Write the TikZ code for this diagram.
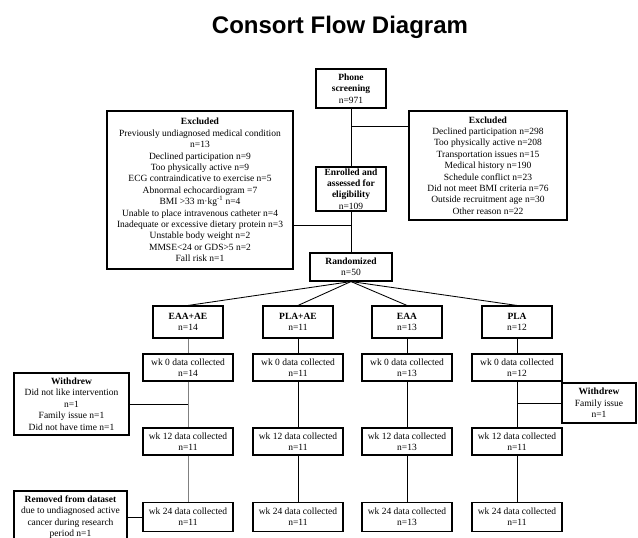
\documentclass[tikz,border=0pt]{standalone}
\usepackage{fontspec}
\setmainfont{Liberation Serif}
\newfontfamily\headfont{Liberation Sans}
\usetikzlibrary{arrows, positioning, calc}

\begin{document}
\begin{tikzpicture}[x=1pt, y=-1pt,
	box/.style={draw, line width=1.1pt, align=center, inner sep=2pt, font=\fontsize{9.5}{11.4}\selectfont},
	grp/.style={box, minimum width=70pt, minimum height=32pt},
	wk/.style={box, minimum width=90pt, minimum height=27pt},
	link/.style={line width=0.85pt}]
	\useasboundingbox (0,0) rectangle (638,538);
	\node[anchor=base, font=\headfont\bfseries\fontsize{24}{28}\selectfont] (title) at (340,33) {Consort Flow Diagram};

	% screening and enrolment
	\node[box, minimum width=70pt, minimum height=39pt] (phone) at (351,88.5) {\textbf{Phone}\\\textbf{screening}\\n=971};
	\node[box, minimum width=70pt, minimum height=44pt, inner ysep=0.5pt] (enrol) at (351,189) {\textbf{Enrolled and}\\\textbf{assessed for}\\\textbf{eligibility}\\n=109};
	\node[box, minimum width=82pt, minimum height=28pt] (rand) at (351,267) {\textbf{Randomized}\\n=50};
	\node[box, minimum width=158pt, minimum height=109pt] (exclR) at (488,165.5) {\textbf{Excluded}\\Declined participation n=298\\Too physically active n=208\\Transportation issues n=15\\Medical history n=190\\Schedule conflict n=23\\Did not meet BMI criteria n=76\\Outside recruitment age n=30\\Other reason n=22};
	\node[box, minimum width=186pt, minimum height=158pt] (exclL) at (200,190) {\textbf{Excluded}\\Previously undiagnosed medical condition\\n=13\\Declined participation n=9\\Too physically active n=9\\ECG contraindicative to exercise n=5\\Abnormal echocardiogram =7\\BMI >33 m·kg\textsuperscript{-1} n=4\\Unable to place intravenous catheter n=4\\Inadequate or excessive dietary protein n=3\\Unstable body weight n=2\\MMSE<24 or GDS>5 n=2\\Fall risk n=1};

	% groups
	\node[grp] (g1) at (188,322) {\textbf{EAA+AE}\\n=14};
	\node[grp] (g2) at (298,322) {\textbf{PLA+AE}\\n=11};
	\node[grp] (g3) at (407,322) {\textbf{EAA}\\n=13};
	\node[grp] (g4) at (517,322) {\textbf{PLA}\\n=12};

	\node[wk] (w0a) at (188,367.5) {wk 0 data collected\\n=14};
	\node[wk] (w0b) at (298,367.5) {wk 0 data collected\\n=11};
	\node[wk] (w0c) at (407,367.5) {wk 0 data collected\\n=13};
	\node[wk] (w0d) at (517,367.5) {wk 0 data collected\\n=12};

	\node[wk] (w12a) at (188,441.5) {wk 12 data collected\\n=11};
	\node[wk] (w12b) at (298,441.5) {wk 12 data collected\\n=11};
	\node[wk] (w12c) at (407,441.5) {wk 12 data collected\\n=13};
	\node[wk] (w12d) at (517,441.5) {wk 12 data collected\\n=11};

	\node[wk, minimum height=29pt] (w24a) at (188,517) {wk 24 data collected\\n=11};
	\node[wk, minimum height=29pt] (w24b) at (298,517) {wk 24 data collected\\n=11};
	\node[wk, minimum height=29pt] (w24c) at (407,517) {wk 24 data collected\\n=13};
	\node[wk, minimum height=29pt] (w24d) at (517,517) {wk 24 data collected\\n=11};

	% drop-outs
	\node[box, minimum width=115pt, minimum height=62pt] (wdL) at (71.5,404) {\textbf{Withdrew}\\Did not like intervention\\n=1\\Family issue n=1\\Did not have time n=1};
	\node[box, minimum width=74pt, minimum height=40pt] (wdR) at (599,403) {\textbf{Withdrew}\\Family issue\\n=1};
	\node[box, minimum width=113pt, minimum height=52pt] (rem) at (70.5,517) {\textbf{Removed from dataset}\\due to undiagnosed active\\cancer during research\\period n=1};

	% connectors
	\draw[link] (phone) -- (enrol);
	\draw[link] (enrol) -- (rand);
	\coordinate (j1) at (351,126);
	\coordinate (j2) at (351,225);
	\draw[link] (j1) -- (j1 -| exclR.west);
	\draw[link] (j2) -- (j2 -| exclL.east);

	\draw[link] (rand.south) -- (g1.north);
	\draw[link] (rand.south) -- (g2.north);
	\draw[link] (rand.south) -- (g3.north);
	\draw[link] (rand.south) -- (g4.north);

	\draw[link, gray] (g1) -- (w0a);
	\draw[link, gray] (w0a) -- (w12a);
	\draw[link, gray] (w12a) -- (w24a);
	\draw[link] (g2) -- (w0b);
	\draw[link] (w0b) -- (w12b);
	\draw[link] (w12b) -- (w24b);
	\draw[link] (g3) -- (w0c);
	\draw[link] (w0c) -- (w12c);
	\draw[link] (w12c) -- (w24c);
	\draw[link] (g4) -- (w0d);
	\draw[link] (w0d) -- (w12d);
	\draw[link] (w12d) -- (w24d);

	\draw[link] (wdL.east) -- (wdL.east -| w0a.south);
	\draw[link] (wdR.west) -- (wdR.west -| w0d.south);
	\draw[link] (rem) -- (w24a);
\end{tikzpicture}
\end{document}
